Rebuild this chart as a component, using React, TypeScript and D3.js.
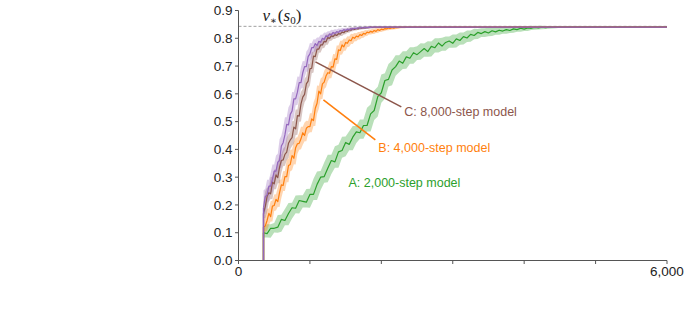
import React from "react";
import * as d3 from "d3";

// ---------------- data ----------------
const START_STEP = 350;
const END_STEP = 6000;
const PLATEAU = 0.84;
const OPTIMAL = 0.843;

const xTicks = [0, 1000, 2000, 3000, 4000, 5000, 6000];
const xTickLabels = ["0", "", "", "", "", "", "6,000"];
const yTicks = [0, 0.1, 0.2, 0.3, 0.4, 0.5, 0.6, 0.7, 0.8, 0.9];

// Unlabeled purple model (one value every 25 steps from step 350)
const purpleStep = 25;
const purpleValues = [
  0.19, 0.23, 0.236, 0.268, 0.268, 0.292, 0.322, 0.322, 0.354, 0.36,
  0.412, 0.424, 0.452, 0.49, 0.488, 0.526, 0.538, 0.582, 0.582, 0.606,
  0.64, 0.64, 0.676, 0.698, 0.698, 0.734, 0.744, 0.766, 0.766, 0.781,
  0.774, 0.789, 0.786, 0.8, 0.796, 0.809, 0.806, 0.815, 0.812, 0.821,
  0.817, 0.824, 0.821, 0.828, 0.826, 0.831, 0.828, 0.833, 0.83, 0.835,
  0.833, 0.836, 0.835, 0.838, 0.836, 0.839, 0.837, 0.839, 0.838, 0.84,
  0.839, 0.84, 0.84,
];
const purpleBand = [[350, 0.022], [700, 0.026], [1100, 0.014], [1500, 0.005], [2000, 0.002]];

// C: 8,000-step model (every 25 steps)
const brownStep = 25;
const brownValues = [
  0.17, 0.194, 0.23, 0.244, 0.24, 0.282, 0.276, 0.308, 0.298, 0.336,
  0.36, 0.362, 0.382, 0.39, 0.422, 0.434, 0.442, 0.48, 0.474, 0.522,
  0.52, 0.564, 0.588, 0.598, 0.636, 0.646, 0.69, 0.692, 0.736, 0.734,
  0.761, 0.761, 0.776, 0.776, 0.789, 0.787, 0.803, 0.8, 0.809, 0.806,
  0.813, 0.81, 0.817, 0.815, 0.822, 0.82, 0.827, 0.825, 0.831, 0.829,
  0.834, 0.832, 0.835, 0.834, 0.837, 0.836, 0.838, 0.837, 0.839, 0.838,
  0.84, 0.839, 0.84, 0.84, 0.84,
];
const brownBand = [[350, 0.018], [800, 0.022], [1150, 0.012], [1600, 0.004], [2100, 0.002]];

// B: 4,000-step model (every 25 steps)
const orangeStep = 25;
const orangeValues = [
  0.12, 0.124, 0.144, 0.17, 0.158, 0.196, 0.198, 0.22, 0.212, 0.244,
  0.272, 0.27, 0.302, 0.302, 0.342, 0.346, 0.378, 0.368, 0.406, 0.42,
  0.422, 0.438, 0.46, 0.45, 0.476, 0.482, 0.482, 0.51, 0.504, 0.548,
  0.566, 0.61, 0.6, 0.636, 0.642, 0.664, 0.676, 0.674, 0.698, 0.696,
  0.726, 0.724, 0.758, 0.756, 0.776, 0.769, 0.785, 0.782, 0.794, 0.791,
  0.804, 0.8, 0.808, 0.805, 0.813, 0.81, 0.818, 0.815, 0.822, 0.82,
  0.825, 0.822, 0.828, 0.825, 0.831, 0.828, 0.833, 0.831, 0.835, 0.834,
  0.837, 0.835, 0.838, 0.836, 0.839, 0.838, 0.839, 0.84, 0.839, 0.84,
  0.84,
];
const orangeBand = [[350, 0.016], [800, 0.022], [1300, 0.018], [1800, 0.007], [2450, 0.002]];

// A: 2,000-step model (every 50 steps)
const greenStep = 50;
const greenValues = [
  0.1, 0.097, 0.116, 0.116, 0.12, 0.148, 0.144, 0.169, 0.19, 0.188,
  0.216, 0.213, 0.21, 0.238, 0.238, 0.274, 0.3, 0.302, 0.332, 0.36,
  0.355, 0.391, 0.396, 0.425, 0.418, 0.444, 0.463, 0.46, 0.486, 0.486,
  0.528, 0.54, 0.59, 0.604, 0.648, 0.652, 0.686, 0.698, 0.718, 0.71,
  0.733, 0.728, 0.748, 0.741, 0.752, 0.763, 0.752, 0.771, 0.766, 0.783,
  0.772, 0.785, 0.79, 0.782, 0.798, 0.792, 0.806, 0.801, 0.814, 0.81,
  0.821, 0.817, 0.824, 0.819, 0.827, 0.823, 0.829, 0.826, 0.831, 0.828,
  0.834, 0.831, 0.836, 0.833, 0.837, 0.836, 0.839, 0.837, 0.84, 0.838,
  0.84, 0.839, 0.84, 0.84,
];
const greenBand = [[350, 0.014], [1000, 0.02], [2000, 0.022], [3000, 0.016], [4000, 0.007], [4550, 0.002]];

// annotations (data coordinates)
const labels = ["A: 2,000-step model", "B: 4,000-step model", "C: 8,000-step model"];
const labelPos = [[1540, 0.264], [1958, 0.391], [2322, 0.52]];
const leaderFrom = [null, [1189, 0.578], [1077, 0.715]];
const leaderTo = [null, [1916, 0.434], [2280, 0.553]];

// ---------------- chart ----------------
const W = 689;
const H = 309;
const x = d3.scaleLinear().domain([0, 6000]).range([238.5, 667]);
const y = d3.scaleLinear().domain([0, 0.9]).range([260.5, 10.5]);

const COLORS = {
  green: "#2ca02c",
  orange: "#ff7f0e",
  brown: "#8c564b",
  purple: "#9467bd",
};

type Pt = { s: number; v: number; lo: number; hi: number };

function buildSeries(values: number[], step: number, band: number[][]): Pt[] {
  const bs = d3
    .scaleLinear()
    .domain(band.map((b) => b[0]))
    .range(band.map((b) => b[1]))
    .clamp(true);
  const n = values.length;
  const pts: Pt[] = values.map((v, i) => {
    const s = START_STEP + i * step;
    const nb = [values[Math.max(0, i - 1)], v, values[Math.min(n - 1, i + 1)]];
    const w = bs(s);
    return { s, v, lo: (d3.min(nb) as number) - w, hi: Math.min((d3.max(nb) as number) + w, 0.845) };
  });
  pts.push({ s: END_STEP, v: PLATEAU, lo: PLATEAU - 0.002, hi: PLATEAU + 0.002 });
  return pts;
}

const series = [
  { key: "green", color: COLORS.green, pts: buildSeries(greenValues, greenStep, greenBand) },
  { key: "orange", color: COLORS.orange, pts: buildSeries(orangeValues, orangeStep, orangeBand) },
  { key: "brown", color: COLORS.brown, pts: buildSeries(brownValues, brownStep, brownBand) },
  { key: "purple", color: COLORS.purple, pts: buildSeries(purpleValues, purpleStep, purpleBand) },
];

const lineGen = d3
  .line<Pt>()
  .x((d) => x(d.s))
  .y((d) => y(d.v));
const areaGen = d3
  .area<Pt>()
  .x((d) => x(d.s))
  .y0((d) => y(d.lo))
  .y1((d) => y(d.hi));

const labelColors = [COLORS.green, COLORS.orange, COLORS.brown];

export default function App() {
  const axisColor = "#555";
  return (
    <svg
      width={W}
      height={H}
      style={{ position: "absolute", left: 0, top: 0, background: "#fff" }}
      fontFamily="'Liberation Sans', Arial, sans-serif"
    >
      {/* optimal value dashed line */}
      <line
        x1={x(0)}
        x2={x(6000)}
        y1={y(OPTIMAL)}
        y2={y(OPTIMAL)}
        stroke="#888"
        strokeWidth={0.8}
        strokeDasharray="3,2"
      />
      <text x={262.5} y={21} fontFamily="'Liberation Serif', 'DejaVu Serif', serif" fontSize={17} fill="#222">
        <tspan fontStyle="italic">v</tspan>
        <tspan fontSize={10} dy={3}>∗</tspan>
        <tspan dy={-3} dx={1}>(</tspan>
        <tspan fontStyle="italic">s</tspan>
        <tspan fontSize={11} dy={3}>0</tspan>
        <tspan dy={-3}>)</tspan>
      </text>

      {/* bands */}
      {series.map((s) => (
        <path key={s.key + "-band"} d={areaGen(s.pts) || ""} fill={s.color} fillOpacity={0.33} stroke="none" />
      ))}
      {/* lines */}
      {series.map((s) => (
        <g key={s.key + "-line"}>
          <line x1={x(START_STEP)} x2={x(START_STEP)} y1={y(0)} y2={y(s.pts[0].v)} stroke={s.color} strokeWidth={1.4} />
          <path d={lineGen(s.pts) || ""} fill="none" stroke={s.color} strokeWidth={1.2} strokeLinejoin="round" />
        </g>
      ))}

      {/* annotations */}
      {labels.map((t, i) => (
        <g key={t}>
          {leaderFrom[i] && leaderTo[i] && (
            <line
              x1={x(leaderFrom[i]![0])}
              y1={y(leaderFrom[i]![1])}
              x2={x(leaderTo[i]![0])}
              y2={y(leaderTo[i]![1])}
              stroke={labelColors[i]}
              strokeWidth={1.6}
            />
          )}
          <text x={x(labelPos[i][0])} y={y(labelPos[i][1])} fontSize={12.5} fill={labelColors[i]}>
            {t}
          </text>
        </g>
      ))}

      {/* y axis */}
      <line x1={x(0)} x2={x(0)} y1={y(0)} y2={y(0.9)} stroke={axisColor} strokeWidth={1} />
      {yTicks.map((t) => (
        <g key={"y" + t}>
          <line x1={x(0) - 3.5} x2={x(0)} y1={y(t)} y2={y(t)} stroke={axisColor} strokeWidth={1} />
          <text x={x(0) - 6} y={y(t)} dy="0.35em" textAnchor="end" fontSize={13.5} fill="#222">
            {d3.format(".1f")(t)}
          </text>
        </g>
      ))}
      {/* x axis */}
      <line x1={x(0)} x2={x(6000)} y1={y(0)} y2={y(0)} stroke={axisColor} strokeWidth={1} />
      {xTicks.map((t, i) => (
        <g key={"x" + t}>
          <line x1={x(t)} x2={x(t)} y1={y(0)} y2={y(0) + 3.5} stroke={axisColor} strokeWidth={1} />
          {xTickLabels[i] && (
            <text x={x(t)} y={y(0) + 15} textAnchor="middle" fontSize={13.5} fill="#222">
              {xTickLabels[i]}
            </text>
          )}
        </g>
      ))}
    </svg>
  );
}
